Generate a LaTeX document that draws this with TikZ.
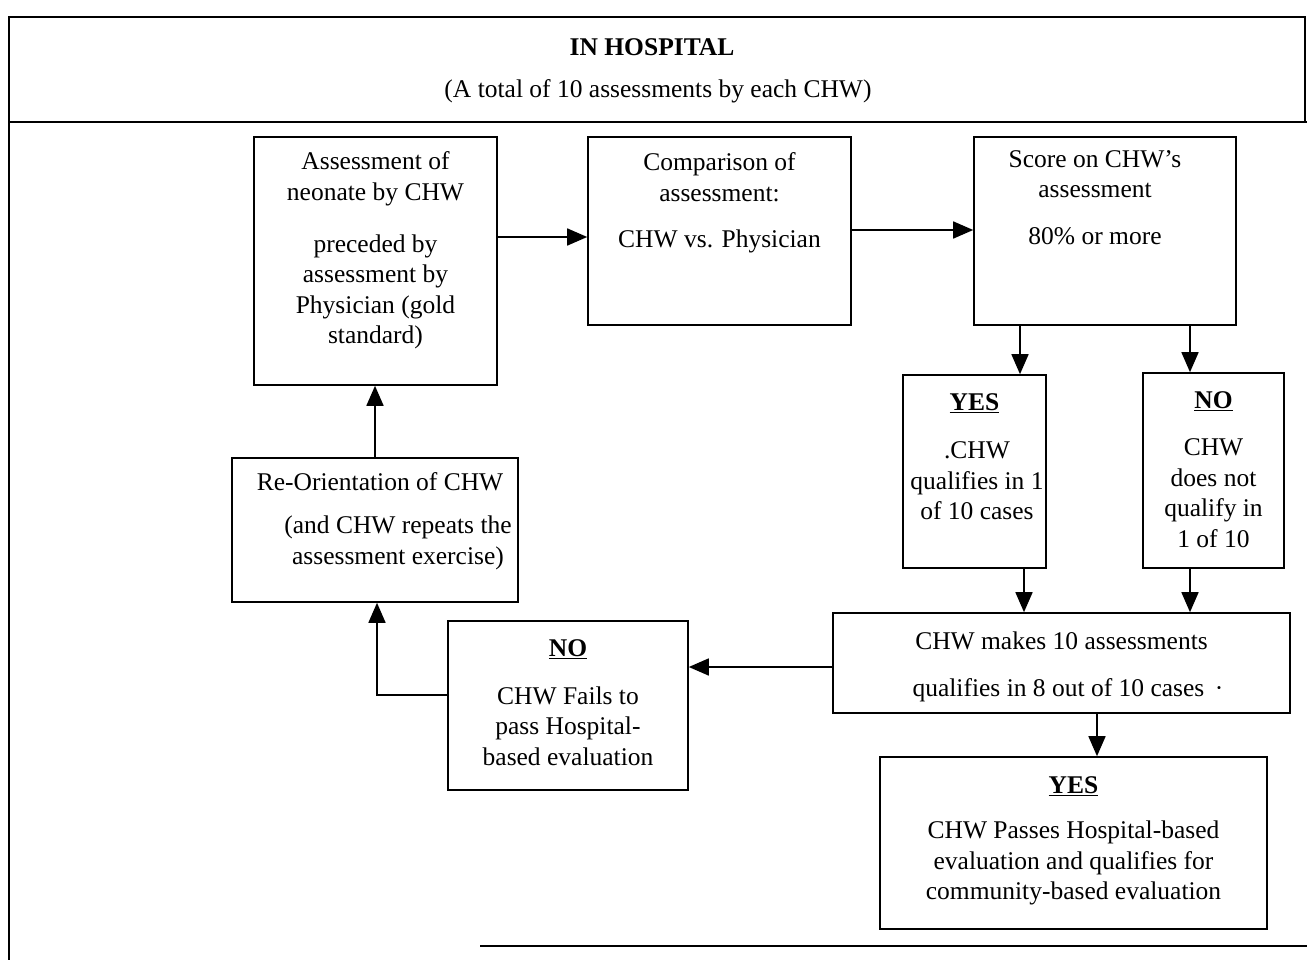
\documentclass[tikz,border=0pt]{standalone}
\usepackage{fontspec}
\setmainfont{Liberation Serif}
\usetikzlibrary{arrows.meta}
\newcommand\fsz{\fontsize{25.5}{30.5}\selectfont}
\tikzset{
  box/.style={draw, line width=1.6pt, inner sep=0pt},
  txt/.style={align=center, inner sep=0pt, font=\fsz},
  frame/.style={line width=1.8pt},
  arr/.style={line width=1.6pt, -{Triangle[length=20pt,width=17pt]}},
  conn/.style={line width=1.6pt}
}
\begin{document}
\begin{tikzpicture}[x=1pt,y=-1pt]
\useasboundingbox (0,0) rectangle (1307,960);
% outer frame
\draw[frame] (9,960) -- (9,17) -- (1305,17) -- (1305,122);
\draw[frame] (9,122) -- (1307,122);
\draw[frame] (480,946) -- (1307,946);
\node[txt, font=\fsz\bfseries] (title) at (652,47) {IN HOSPITAL};
\node[txt] (subtitle) at (658,91) {(A total of 10 assessments by each CHW)};
% boxes
\node[box, minimum width=243pt, minimum height=248pt] (A) at (375.5,261) {};
\node[box, minimum width=263pt, minimum height=188pt] (B) at (719.5,231) {};
\node[box, minimum width=262pt, minimum height=188pt] (C) at (1105,231) {};
\node[box, minimum width=143pt, minimum height=193pt] (D) at (974.5,471.5) {};
\node[box, minimum width=141pt, minimum height=195pt] (E) at (1213.5,470.5) {};
\node[box, minimum width=457pt, minimum height=100pt] (F) at (1061.5,663) {};
\node[box, minimum width=387pt, minimum height=172pt] (G) at (1073.5,843) {};
\node[box, minimum width=240pt, minimum height=169pt] (H) at (568,705.5) {};
\node[box, minimum width=286pt, minimum height=144pt] (I) at (375,530) {};
% texts
\node[txt] (A1) at (375.5,179) {Assessment of\\neonate by CHW};
\node[txt] (A2) at (375.5,292) {preceded by\\assessment by\\Physician (gold\\standard)};
\node[txt] (B1) at (719.5,177) {Comparison of\\assessment:};
\node[txt] (B2) at (719.5,241) {CHW vs. Physician};
\node[txt] (C1) at (1095,174) {Score on CHW’s\\assessment};
\node[txt] (C2) at (1095,236) {80\% or more};
\node[txt] (D1) at (974.5,403) {\underline{\textbf{YES}}};
\node[txt] (D2) at (977,481) {.CHW\\qualifies in 1\\of 10 cases};
\node[txt] (E1) at (1213.5,401) {\underline{\textbf{NO}}};
\node[txt] (E2) at (1213.5,493) {CHW\\does not\\qualify in\\1 of 10};
\node[txt] (F1) at (1061.5,641) {CHW makes 10 assessments};
\node[txt] (F2) at (1068,690) {qualifies in 8 out of 10 cases \,·};
\node[txt] (G1) at (1073.5,786) {\underline{\textbf{YES}}};
\node[txt] (G2) at (1073.5,863) {CHW Passes Hospital-based\\evaluation and qualifies for\\community-based evaluation};
\node[txt] (H1) at (568,649) {\underline{\textbf{NO}}};
\node[txt] (H2) at (568,726) {CHW Fails to\\pass Hospital-\\based evaluation};
\node[txt] (I1) at (380,482) {Re-Orientation of CHW};
\node[txt] (I2) at (398,543) {(and CHW repeats the\\assessment exercise)};
% connectors
\draw[arr] (A.east |- 0,237) -- (B.west |- 0,237);
\draw[arr] (B.east |- 0,230) -- (C.west |- 0,230);
\draw[arr] (C.south -| 1020,0) -- (D.north -| 1020,0);
\draw[arr] (C.south -| 1190,0) -- (E.north -| 1190,0);
\draw[arr] (D.south -| 1024,0) -- (F.north -| 1024,0);
\draw[arr] (E.south -| 1190,0) -- (F.north -| 1190,0);
\draw[arr] (F.south -| 1097,0) -- (G.north -| 1097,0);
\draw[arr] (F.west |- 0,667) -- (H.east |- 0,667);
\draw[arr] (H.west |- 0,695) -| (I.south -| 377,0);
\draw[arr] (I.north -| 375,0) -- (A.south -| 375,0);
\end{tikzpicture}
\end{document}
